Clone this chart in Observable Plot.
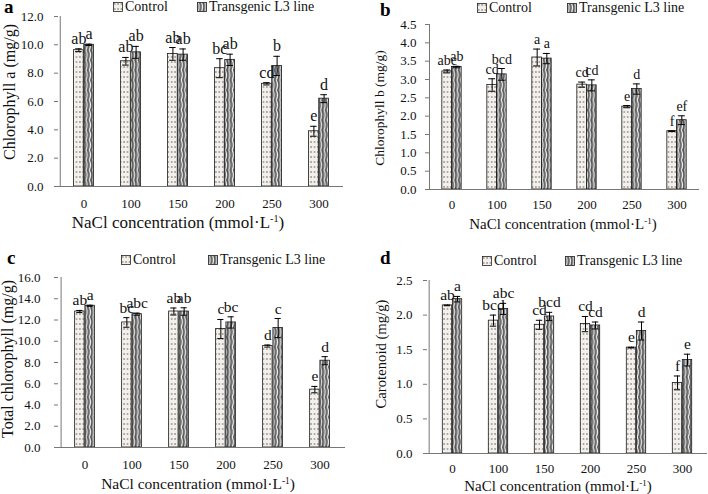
<!DOCTYPE html>
<html><head><meta charset="utf-8">
<script src="https://cdn.jsdelivr.net/npm/d3@7"></script>
<script src="https://cdn.jsdelivr.net/npm/@observablehq/plot@0.6"></script>
<style>
body{margin:0;background:#fff;font-family:"Liberation Serif","Times New Roman",Times,serif;}
#root{position:relative;width:708px;height:494px;overflow:hidden;background:#fff}
#root svg text, #root svg tspan{font-family:"Liberation Serif","Times New Roman",Times,serif !important}
.panel{position:absolute;width:354px;height:247px}
.letter{position:absolute;font-weight:bold;font-size:19px;line-height:0.6;color:#000;font-family:"Liberation Serif",serif}
.leg{position:absolute;display:flex;align-items:center;font-size:14px;line-height:1;height:14px;white-space:nowrap;color:#111;font-family:"Liberation Serif",serif}
.sw{display:block;margin-right:2px}
.ttl{position:absolute;white-space:nowrap;line-height:1;color:#111;transform:translate(-50%,-50%);font-family:"Liberation Serif",serif}
.ttl.rot{transform:translate(-50%,-50%) rotate(-90deg)}
.ttl sup{font-size:0.6em;vertical-align:0.55em;line-height:0}
</style></head>
<body>
<svg width="0" height="0" style="position:absolute">
<defs>
<pattern id="pCtrl" patternUnits="userSpaceOnUse" width="3.4" height="5">
<rect width="3.4" height="5" fill="#f3efea"/>
<rect x="1.2" y="1" width="1" height="2" fill="#7a7a7a"/>
</pattern>
<pattern id="pTr" patternUnits="userSpaceOnUse" width="3.4" height="10">
<rect width="3.4" height="10" fill="#747474"/>
<path d="M1,0 Q3.2,5 1,10" fill="none" stroke="#f2f2f2" stroke-width="1"/>
<path d="M2.6,0 Q4.8,5 2.6,10" fill="none" stroke="#333" stroke-width="0.6"/>
</pattern>
</defs></svg>
<div id="root"></div>
<script>
// ---- data ----
const concentrations = ["0", "100", "150", "200", "250", "300"];
const seriesNames = ["Control", "Transgenic L3 line"];
const xTitleMain = "NaCl concentration (mmol·L";
const xTitleSup = "-1";
const xTitleEnd = ")";

// a: Chlorophyll a
const chlaControl = [9.62, 8.84, 9.36, 8.35, 7.25, 3.90];
const chlaControlErr = [0.10, 0.27, 0.45, 0.67, 0.08, 0.35];
const chlaControlLetters = ["ab", "ab", "ab", "bc", "cd", "e"];
const chlaTrans = [10.00, 9.47, 9.31, 8.94, 8.51, 6.20];
const chlaTransErr = [0.05, 0.42, 0.40, 0.40, 0.68, 0.28];
const chlaTransLetters = ["a", "ab", "ab", "ab", "b", "d"];

// b: Chlorophyll b
const chlbControl = [3.22, 2.85, 3.60, 2.86, 2.26, 1.59];
const chlbControlErr = [0.04, 0.17, 0.23, 0.07, 0.03, 0.01];
const chlbControlLetters = ["abc", "cd", "a", "cd", "e", "f"];
const chlbTrans = [3.34, 3.14, 3.57, 2.84, 2.74, 1.89];
const chlbTransErr = [0.02, 0.16, 0.14, 0.15, 0.14, 0.12];
const chlbTransLetters = ["ab", "bcd", "a", "cd", "d", "ef"];

// c: Total chlorophyll
const totControl = [12.80, 11.77, 12.80, 11.15, 9.55, 5.45];
const totControlErr = [0.10, 0.45, 0.33, 0.90, 0.10, 0.30];
const totControlLetters = ["ab", "bc", "ab", "c", "d", "e"];
const totTrans = [13.34, 12.55, 12.80, 11.77, 11.24, 8.17];
const totTransErr = [0.05, 0.10, 0.35, 0.53, 0.90, 0.38];
const totTransLetters = ["a", "abc", "ab", "bc", "c", "d"];

// d: Carotenoid
const carControl = [2.14, 1.92, 1.86, 1.87, 1.53, 1.02];
const carControlErr = [0.005, 0.08, 0.065, 0.11, 0.005, 0.10];
const carControlLetters = ["ab", "bcd", "cd", "cd", "e", "f"];
const carTrans = [2.23, 2.09, 1.98, 1.85, 1.77, 1.35];
const carTransErr = [0.04, 0.08, 0.06, 0.05, 0.13, 0.085];
const carTransLetters = ["a", "abc", "bcd", "cd", "d", "e"];

const FONT = "Liberation Serif, Times New Roman, serif";

const panels = [
  {id:"a", left:0, top:0, ml:58, mr:11, mt:16, mb:61, yMax:12, yStep:2,
   yTitle:"Chlorophyll a (mg/g)", yTitleX:10, yTitleY:92, yTitleSize:16,
   xTitleSize:17, xTitleX:178, xTitleY:222, tickPad:12, yTickPad:11, labSize:16,
   ctrl:chlaControl, ctrlErr:chlaControlErr, ctrlLab:chlaControlLetters,
   tr:chlaTrans, trErr:chlaTransErr, trLab:chlaTransLetters,
   letterX:4, letterTop:1, legC:113, legT:197, legY:7},
  {id:"b", left:354, top:0, ml:75, mr:9, mt:24, mb:58, yMax:4.5, yStep:0.5,
   yTitle:"Chlorophyll b (mg/g)", yTitleX:26, yTitleY:108, yTitleSize:13.5,
   xTitleSize:15, xTitleX:209, xTitleY:224, tickPad:10, yTickPad:9, labSize:14,
   ctrl:chlbControl, ctrlErr:chlbControlErr, ctrlLab:chlbControlLetters,
   tr:chlbTrans, trErr:chlbTransErr, trLab:chlbTransLetters,
   letterX:26, letterTop:4, legC:123, legT:213, legY:8},
  {id:"c", left:0, top:247, ml:58, mr:9, mt:30, mb:47, yMax:16, yStep:2,
   yTitle:"Total chlorophyll (mg/g)", yTitleX:8, yTitleY:112, yTitleSize:16,
   xTitleSize:15.5, xTitleX:198, xTitleY:237, tickPad:12.5, yTickPad:14, labSize:15.5,
   ctrl:totControl, ctrlErr:totControlErr, ctrlLab:totControlLetters,
   tr:totTrans, trErr:totTransErr, trLab:totTransLetters,
   letterX:7, letterTop:5, legC:121, legT:208, legY:13},
  {id:"d", left:354, top:247, ml:73, mr:1, mt:33, mb:41, yMax:2.5, yStep:0.5,
   yTitle:"Carotenoid (mg/g)", yTitleX:27, yTitleY:107, yTitleSize:14.7,
   xTitleSize:15, xTitleX:204, xTitleY:239, tickPad:10.4, yTickPad:11, labSize:15.5,
   ctrl:carControl, ctrlErr:carControlErr, ctrlLab:carControlLetters,
   tr:carTrans, trErr:carTransErr, trLab:carTransLetters,
   letterX:26, letterTop:5, legC:128, legT:211, legY:14}
];

const root = document.getElementById("root");

function swatch(fillId) {
  const ns = "http://www.w3.org/2000/svg";
  const s = document.createElementNS(ns, "svg");
  s.setAttribute("width", 10); s.setAttribute("height", 10);
  s.setAttribute("class", "sw");
  const r = document.createElementNS(ns, "rect");
  r.setAttribute("x", 0.5); r.setAttribute("y", 0.5);
  r.setAttribute("width", 9); r.setAttribute("height", 9);
  r.setAttribute("fill", `url(#${fillId})`);
  r.setAttribute("stroke", "#222"); r.setAttribute("stroke-width", 0.8);
  s.appendChild(r);
  return s;
}

function legendItem(x, y, fillId, label) {
  const d = document.createElement("div");
  d.className = "leg";
  d.style.left = x + "px";
  d.style.top = (y - 7) + "px";
  d.appendChild(swatch(fillId));
  const t = document.createElement("span");
  t.textContent = label;
  d.appendChild(t);
  return d;
}

for (const cfg of panels) {
  const W = 354, H = 247;
  const step = (W - cfg.ml - cfg.mr) / concentrations.length;
  const bw = step * 0.215;
  const ctrlRows = concentrations.map((c, i) => ({c, v: cfg.ctrl[i], e: cfg.ctrlErr[i], l: cfg.ctrlLab[i]}));
  const trRows = concentrations.map((c, i) => ({c, v: cfg.tr[i], e: cfg.trErr[i], l: cfg.trLab[i]}));
  const errMarks = (rows, sign) => [
    Plot.ruleX(rows, {x: "c", y1: d => d.v - d.e, y2: d => d.v + d.e, dx: sign * bw / 2, stroke: "#000", strokeWidth: 1}),
    Plot.tickY(rows, {x: "c", y: d => d.v + d.e, dx: sign * bw / 2, insetLeft: step / 2 - 3.5, insetRight: step / 2 - 3.5, stroke: "#000", strokeWidth: 1}),
    Plot.tickY(rows, {x: "c", y: d => d.v - d.e, dx: sign * bw / 2, insetLeft: step / 2 - 3.5, insetRight: step / 2 - 3.5, stroke: "#000", strokeWidth: 1}),
    Plot.text(rows, {x: "c", y: d => d.v + d.e, text: "l", dx: sign * bw / 2, dy: -5, lineAnchor: "bottom", fontSize: cfg.labSize, fill: "#111", fontFamily: FONT})
  ];
  const yTicks = d3.range(0, cfg.yMax + 1e-9, cfg.yStep);
  const svg = Plot.plot({
    width: W, height: H,
    marginLeft: cfg.ml, marginRight: cfg.mr, marginTop: cfg.mt, marginBottom: cfg.mb,
    style: {fontFamily: FONT, fontSize: "13px", background: "transparent", overflow: "visible"},
    x: {domain: concentrations, padding: 0, axis: null},
    y: {domain: [0, cfg.yMax], axis: null},
    marks: [
      Plot.barY(ctrlRows, {x: "c", y: "v", fill: "url(#pCtrl)", stroke: "#1a1a1a", strokeWidth: 0.8,
        insetLeft: step / 2 - bw, insetRight: step / 2}),
      Plot.barY(trRows, {x: "c", y: "v", fill: "url(#pTr)", stroke: "#1a1a1a", strokeWidth: 0.8,
        insetLeft: step / 2, insetRight: step / 2 - bw}),
      ...errMarks(ctrlRows, -1),
      ...errMarks(trRows, 1),
      Plot.ruleY([0], {stroke: "#777", strokeWidth: 1}),
      Plot.ruleX([concentrations[0]], {y1: 0, y2: cfg.yMax, dx: -step / 2, stroke: "#777", strokeWidth: 1}),
      Plot.axisY({ticks: yTicks, tickFormat: d => d.toFixed(1), tickSize: 4, tickPadding: cfg.yTickPad,
        stroke: "#777", fill: "#111", label: null, fontSize: 13, fontFamily: FONT}),
      Plot.axisX({tickSize: 0, tickPadding: cfg.tickPad, fill: "#111", label: null, fontSize: 13, fontFamily: FONT})
    ]
  });
  svg.style.position = "absolute";
  svg.style.left = "0px";
  svg.style.top = "0px";
  svg.setAttribute("font-family", FONT);

  const p = document.createElement("div");
  p.className = "panel";
  p.style.left = cfg.left + "px";
  p.style.top = cfg.top + "px";
  p.appendChild(svg);

  const yt = document.createElement("div");
  yt.className = "ttl rot";
  yt.textContent = cfg.yTitle;
  yt.style.left = cfg.yTitleX + "px";
  yt.style.top = cfg.yTitleY + "px";
  yt.style.fontSize = cfg.yTitleSize + "px";
  p.appendChild(yt);

  const xt = document.createElement("div");
  xt.className = "ttl";
  xt.style.left = cfg.xTitleX + "px";
  xt.style.top = cfg.xTitleY + "px";
  xt.style.fontSize = cfg.xTitleSize + "px";
  xt.appendChild(document.createTextNode(xTitleMain));
  const sup = document.createElement("sup");
  sup.textContent = xTitleSup;
  xt.appendChild(sup);
  xt.appendChild(document.createTextNode(xTitleEnd));
  p.appendChild(xt);

  const L = document.createElement("div");
  L.className = "letter";
  L.textContent = cfg.id;
  L.style.left = cfg.letterX + "px";
  L.style.top = cfg.letterTop + "px";
  p.appendChild(L);
  p.appendChild(legendItem(cfg.legC, cfg.legY, "pCtrl", seriesNames[0]));
  p.appendChild(legendItem(cfg.legT, cfg.legY, "pTr", seriesNames[1]));
  root.appendChild(p);
}
</script>
</body></html>
